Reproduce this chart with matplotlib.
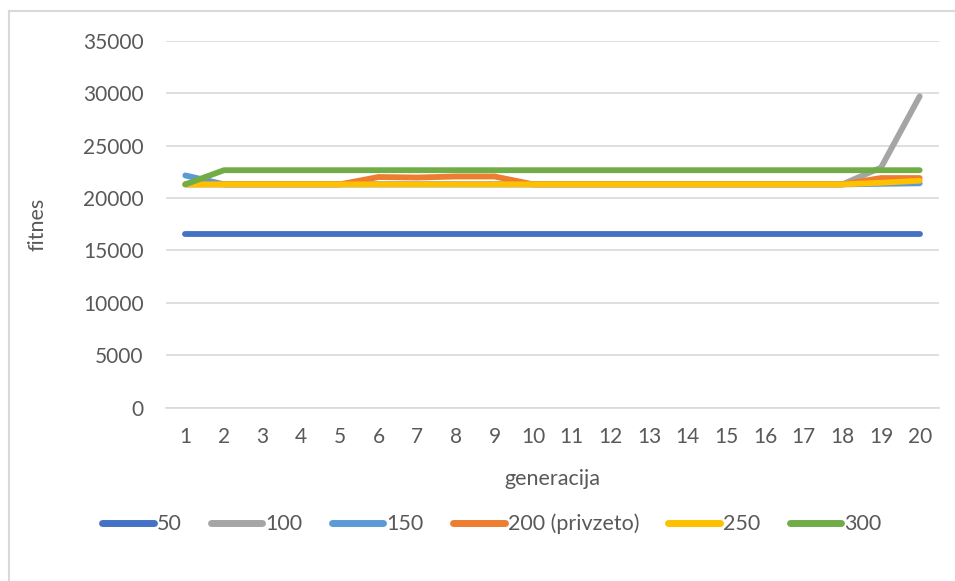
import matplotlib
matplotlib.use("Agg")
import matplotlib.pyplot as plt
from matplotlib.lines import Line2D

# generacija 1..20
generacija = list(range(1, 21))

fit_50 = [16550, 16550, 16550, 16550, 16550, 16550, 16550, 16550, 16550, 16550,
          16550, 16550, 16550, 16550, 16550, 16550, 16550, 16550, 16550, 16550]
fit_100 = [21300, 21300, 21300, 21300, 21300, 21300, 21300, 21300, 21300, 21300,
           21300, 21300, 21300, 21300, 21300, 21300, 21300, 21300, 22900, 29700]
fit_150 = [22150, 21300, 21300, 21300, 21300, 21300, 21300, 21300, 21300, 21300,
           21300, 21300, 21300, 21300, 21300, 21300, 21300, 21300, 21350, 21400]
fit_200 = [21300, 21300, 21300, 21300, 21300, 22000, 21950, 22050, 22050, 21300,
           21300, 21300, 21300, 21300, 21300, 21300, 21300, 21300, 21900, 21900]
fit_250 = [21300, 21300, 21300, 21300, 21300, 21300, 21300, 21300, 21300, 21300,
           21300, 21300, 21300, 21300, 21300, 21300, 21300, 21300, 21450, 21650]
fit_300 = [21300, 22650, 22650, 22650, 22650, 22650, 22650, 22650, 22650, 22650,
           22650, 22650, 22650, 22650, 22650, 22650, 22650, 22650, 22650, 22650]

series = [
    ("50", fit_50, "#4472C4"),
    ("100", fit_100, "#A5A5A5"),
    ("150", fit_150, "#5B9BD5"),
    ("200 (privzeto)", fit_200, "#ED7D31"),
    ("250", fit_250, "#FFC000"),
    ("300", fit_300, "#70AD47"),
]

plt.rcParams["font.family"] = ["Lato", "DejaVu Sans"]
txt = "#595959"
grid = "#D9D9D9"

fig = plt.figure(figsize=(9.55, 5.81), dpi=100)
ax = fig.add_axes([166 / 955, 1 - 407.7 / 581, (939 - 166) / 955, (407.7 - 40.7) / 581])

for name, vals, col in series:
    ax.plot(generacija, vals, color=col, lw=4.2, solid_capstyle="round",
            solid_joinstyle="round", label=name)

ax.set_xlim(0.5, 20.5)
ax.set_ylim(0, 35000)
ax.set_yticks(range(0, 35001, 5000))
ax.set_xticks(generacija)
ax.grid(axis="y", color=grid, lw=1.2)
ax.set_axisbelow(True)
for s in ["top", "right", "left"]:
    ax.spines[s].set_visible(False)
ax.spines["bottom"].set_color(grid)
ax.spines["bottom"].set_linewidth(1.2)
ax.tick_params(length=0, labelsize=15, labelcolor=txt)
ax.tick_params(axis="y", pad=16)
ax.tick_params(axis="x", pad=14)

ax.set_xlabel("generacija", fontsize=15.5, color=txt, labelpad=16)
ax.set_ylabel("fitnes", fontsize=15.5, color=txt, labelpad=26)

handles = [Line2D([], [], color=c, lw=5, solid_capstyle="round") for _, _, c in series]
fig.legend(handles, [n for n, _, _ in series], loc="center", bbox_to_anchor=(0.515, 1 - 524 / 581),
           ncol=6, frameon=False, fontsize=15.5, labelcolor=txt, handlelength=2.4,
           handletextpad=0.15, columnspacing=1.35)

# chart border (only left and top visible in the crop)
fig.add_artist(Line2D([9 / 955, 9 / 955], [0, 1 - 11 / 581], color=grid, lw=1.5, transform=fig.transFigure))
fig.add_artist(Line2D([9 / 955, 1], [1 - 11 / 581, 1 - 11 / 581], color=grid, lw=1.5, transform=fig.transFigure))

fig.savefig("out.png", dpi=100, facecolor="white")
